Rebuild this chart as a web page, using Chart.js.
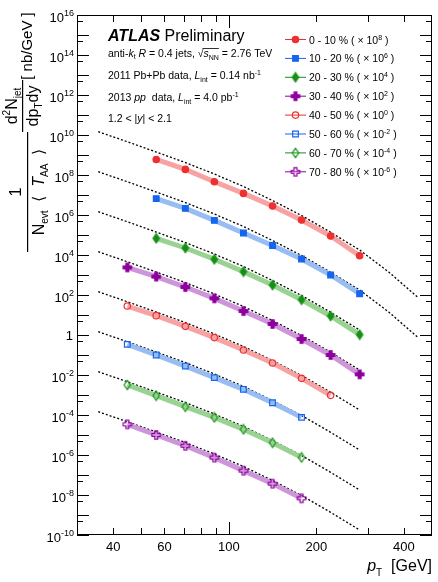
<!DOCTYPE html>
<html>
<head>
<meta charset="utf-8">
<script src="https://cdn.jsdelivr.net/npm/chart.js@4.4.1/dist/chart.umd.min.js"></script>
<style>
  html, body { margin: 0; padding: 0; background: #fff; }
  canvas { display: block; }
</style>
</head>
<body>
<canvas id="chart" width="438" height="582"></canvas>
<script>
// jet pT bin centres [GeV]
const pt = [44.7, 56.2, 70.8, 89.1, 112.2, 141.3, 177.8, 223.9, 281.8];

// 1/(Nevt <TAA>) d2N/dpTdy [nb/GeV], before the factor given in the legend
const y0010 = [null, 6.0, 1.9, 0.46, 0.12, 0.028, 5.6e-3, 8.9e-4, 9.2e-5];
const y1020 = [null, 6.6, 2.15, 0.54, 0.126, 0.030, 6.3e-3, 1.0e-3, 1.16e-4];
const y2030 = [null, 6.8, 2.24, 0.61, 0.147, 0.0316, 5.8e-3, 8.9e-4, 1.04e-4];
const y3040 = [24, 8.3, 2.5, 0.68, 0.158, 0.0355, 6.3e-3, 1.0e-3, 1.08e-4];
const y4050 = [28, 9.3, 2.7, 0.74, 0.178, 0.040, 6.8e-3, 9.6e-4, null];
const y5060 = [34, 10, 2.8, 0.74, 0.192, 0.041, 7.6e-3, null, null];
const y6070 = [32, 9.3, 2.6, 0.76, 0.192, 0.041, 7.6e-3, null, null];
const y7080 = [34, 10, 2.9, 0.74, 0.165, 0.037, 6.8e-3, null, null];

const centralities = ['0 - 10 %', '10 - 20 %', '20 - 30 %', '30 - 40 %', '40 - 50 %', '50 - 60 %', '60 - 70 %', '70 - 80 %'];
const scaleExp = [8, 6, 4, 2, 0, -2, -4, -6];

// pp reference (dotted curves), same scaling as the data
const ppPt = [35.5, 44.7, 56.2, 70.8, 89.1, 112.2, 141.3, 177.8, 223.9, 281.8, 354.8, 446.7];
const ppRef = [146, 46, 14.1, 4.2, 1.12, 0.266, 0.053, 9.4e-3, 1.36e-3, 1.78e-4, 1.41e-5, 7.7e-7];
const ppMax = [446.7, 446.7, 281.8, 281.8, 281.8, 281.8, 281.8, 281.8];

// axis labels
const xTicks = [40, 60, 100, 200, 400];
const xMinor = [40, 50, 60, 70, 80, 90, 200, 300, 400];
const yLabelExp = [16, 14, 12, 10, 8, 6, 4, 2, 0, -2, -4, -6, -8, -10];

const yields = [y0010, y1020, y2030, y3040, y4050, y5060, y6070, y7080];

const FONT = '"Liberation Sans", Arial, Helvetica, sans-serif';
const markerCol = ['#ee3030', '#1565ee', '#159015', '#8e009e'];
const bandCol = ['#f7a3a3', '#97bdf2', '#99d392', '#cf95da'];

function setFont(ctx, size, style) {
  ctx.font = (style ? style + ' ' : '') + size + 'px ' + FONT;
}

// draws a run of text pieces: [text, size, style, dy]
function rich(ctx, x, y, segs, align) {
  ctx.textAlign = 'left';
  let w = 0;
  segs.forEach(s => { setFont(ctx, s[1], s[2]); w += ctx.measureText(s[0]).width; });
  let cx = align === 'center' ? x - w / 2 : align === 'right' ? x - w : x;
  const pos = [];
  segs.forEach(s => {
    setFont(ctx, s[1], s[2]);
    ctx.fillText(s[0], cx, y + (s[3] || 0));
    const ww = ctx.measureText(s[0]).width;
    pos.push([cx, ww]);
    cx += ww;
  });
  return pos;
}

// diamond and fat cross markers (ROOT style) as little canvases
function makeMarker(shape, color, filled) {
  const c = document.createElement('canvas');
  c.width = 12; c.height = 12;
  const g = c.getContext('2d');
  g.translate(6, 6);
  g.beginPath();
  if (shape === 'diamond') {
    g.moveTo(0, -4.6); g.lineTo(3.2, 0); g.lineTo(0, 4.6); g.lineTo(-3.2, 0);
  } else {
    const s = 4.2, a = 1.5;
    const p = [[-a, -s], [a, -s], [a, -a], [s, -a], [s, a], [a, a], [a, s], [-a, s], [-a, a], [-s, a], [-s, -a], [-a, -a]];
    g.moveTo(p[0][0], p[0][1]);
    p.slice(1).forEach(q => g.lineTo(q[0], q[1]));
  }
  g.closePath();
  if (filled) { g.fillStyle = color; g.fill(); }
  g.lineWidth = 1.2; g.strokeStyle = color; g.stroke();
  return c;
}

function pointStyleFor(i) {
  const c = i % 4, filled = i < 4;
  if (c === 0) return { style: 'circle', r: 3.2 };
  if (c === 1) return { style: 'rect', r: 4 };
  return { style: makeMarker(c === 2 ? 'diamond' : 'cross', markerCol[c], filled), r: 4 };
}

const datasets = [];
yields.forEach((vals, i) => {
  const f = Math.pow(10, scaleExp[i]);
  const c = i % 4, filled = i < 4;
  const ps = pointStyleFor(i);
  datasets.push({
    data: pt.map((p, j) => ({ x: p, y: vals[j] === null ? null : vals[j] * f })).filter(d => d.y !== null),
    showLine: true,
    borderColor: bandCol[c],
    borderWidth: 5,
    pointStyle: ps.style,
    pointRadius: ps.r,
    pointBackgroundColor: filled ? markerCol[c] : 'rgba(0,0,0,0)',
    pointBorderColor: markerCol[c],
    pointBorderWidth: 1.2
  });
});
ppMax.forEach((m, i) => {
  const f = Math.pow(10, scaleExp[i]);
  datasets.push({
    data: ppPt.map((p, j) => ({ x: p, y: ppRef[j] * f })).filter(d => d.x <= m),
    showLine: true,
    borderColor: '#000',
    borderWidth: 1.3,
    borderDash: [2, 2],
    pointRadius: 0
  });
});

const decor = {
  id: 'decor',
  afterDraw(chart) {
    const { ctx, chartArea: a, scales: { x, y } } = chart;
    ctx.save();
    ctx.fillStyle = '#000';
    ctx.strokeStyle = '#000';
    ctx.lineWidth = 1;
    ctx.strokeRect(a.left + 0.5, a.top + 0.5, a.right - a.left - 1, a.bottom - a.top - 1);

    // y ticks on both sides
    ctx.beginPath();
    for (let k = -10; k <= 16; k++) {
      const py = Math.round(y.getPixelForValue(Math.pow(10, k))) + 0.5;
      ctx.moveTo(a.left, py); ctx.lineTo(a.left + 12, py);
      ctx.moveTo(a.right, py); ctx.lineTo(a.right - 12, py);
      if (k < 16) {
        const pm = Math.round(y.getPixelForValue(5 * Math.pow(10, k))) + 0.5;
        ctx.moveTo(a.left, pm); ctx.lineTo(a.left + 6, pm);
        ctx.moveTo(a.right, pm); ctx.lineTo(a.right - 6, pm);
      }
    }
    // x ticks on bottom and top
    xMinor.forEach(v => {
      const px = Math.round(x.getPixelForValue(v)) + 0.5;
      ctx.moveTo(px, a.bottom); ctx.lineTo(px, a.bottom - 7);
      ctx.moveTo(px, a.top); ctx.lineTo(px, a.top + 7);
    });
    const p100 = Math.round(x.getPixelForValue(100)) + 0.5;
    ctx.moveTo(p100, a.bottom); ctx.lineTo(p100, a.bottom - 13);
    ctx.moveTo(p100, a.top); ctx.lineTo(p100, a.top + 13);
    ctx.stroke();

    // tick labels
    ctx.textAlign = 'center';
    setFont(ctx, 13);
    xTicks.forEach(v => ctx.fillText(String(v), x.getPixelForValue(v), 551));
    yLabelExp.forEach(k => {
      const py = y.getPixelForValue(Math.pow(10, k));
      if (k === 0) {
        rich(ctx, 73, py + 4.7, [['1', 13]], 'right');
      } else {
        rich(ctx, 74, py + 6.5, [['10', 13], [String(k), 9, '', -6]], 'right');
      }
    });

    // x title
    rich(ctx, 432, 571, [['p', 16, 'italic'], ['T', 10, '', 5], ['  [GeV]', 16]], 'right');

    // y title, rotated: u = 300 - screen y, v = screen x
    ctx.save();
    ctx.translate(0, 300);
    ctx.rotate(-Math.PI / 2);
    rich(ctx, 254, 32, [['[ nb/GeV ]', 15]], 'center');
    rich(ctx, 194, 17, [['d', 16], ['2', 10, '', -7], ['N', 16], ['jet', 10, '', 4]], 'center');
    rich(ctx, 194, 38, [['dp', 16], ['T', 10, '', 4], ['dy', 16]], 'center');
    ctx.fillRect(168, 22, 52, 1.2);
    rich(ctx, 108, 21, [['1', 17]], 'center');
    ctx.fillRect(48, 27, 120, 1.2);
    rich(ctx, 108, 44, [['N', 16], ['evt', 10, '', 4], ['  \u27E8  ', 16], ['T', 16, 'italic'], ['AA', 10, '', 4], ['  \u27E9', 16]], 'center');
    ctx.restore();

    // text block
    rich(ctx, 108, 41, [['ATLAS', 16, 'bold italic'], [' Preliminary', 16]]);
    const p2 = rich(ctx, 108, 57, [['anti-', 10.5], ['k', 10.5, 'italic'], ['t', 7, '', 2], [' ', 10.5], ['R', 10.5, 'italic'],
      [' = 0.4 jets, ', 10.5], ['\u221A', 10.5], ['s', 10.5, 'italic'], ['NN', 7, '', 2.5], [' = 2.76 TeV', 10.5]]);
    ctx.fillRect(p2[6][0] + p2[6][1] - 1, 57 - 9, p2[8][0] + p2[8][1] - p2[6][0] - p2[6][1] + 1, 0.8);
    rich(ctx, 108, 79, [['2011 Pb+Pb data, ', 10.5], ['L', 10.5, 'italic'], ['int', 7, '', 2.5], [' = 0.14 nb', 10.5], ['-1', 7, '', -4]]);
    rich(ctx, 108, 101, [['2013 ', 10.5], ['pp', 10.5, 'italic'], ['  data, ', 10.5], ['L', 10.5, 'italic'], ['int', 7, '', 2.5], [' = 4.0 pb', 10.5], ['-1', 7, '', -4]]);
    rich(ctx, 108, 122, [['1.2 < |', 10.5], ['y', 10.5, 'italic'], ['| < 2.1', 10.5]]);

    // legend
    centralities.forEach((name, i) => {
      const ly = 39.5 + 18.9 * i;
      const c = i % 4, filled = i < 4;
      ctx.strokeStyle = markerCol[c];
      ctx.lineWidth = 1;
      ctx.beginPath(); ctx.moveTo(285, ly); ctx.lineTo(306, ly); ctx.stroke();
      const ps = pointStyleFor(i);
      ctx.fillStyle = filled ? markerCol[c] : 'rgba(0,0,0,0)';
      ctx.lineWidth = 1.2;
      Chart.helpers.drawPoint(ctx, { pointStyle: ps.style, radius: ps.r, rotation: 0, borderWidth: 1.2 }, 295.5, ly);
      ctx.fillStyle = '#000';
      rich(ctx, 309, ly + 4, [[name + ' ( \u00D7 10', 10.5], [String(scaleExp[i]), 7, '', -4], [' )', 10.5]]);
    });
    ctx.restore();
  }
};

const ctx = document.getElementById('chart').getContext('2d');
const chart = new Chart(ctx, {
  type: 'scatter',
  data: { datasets: datasets },
  options: {
    responsive: false,
    animation: false,
    devicePixelRatio: 1,
    layout: { padding: { left: 77, top: 15, right: 6, bottom: 47 } },
    elements: { line: { tension: 0 } },
    scales: {
      x: { type: 'logarithmic', min: 30, max: 500, display: false },
      y: { type: 'logarithmic', min: 1e-10, max: 1e16, display: false }
    },
    plugins: { legend: { display: false }, tooltip: { enabled: false } }
  },
  plugins: [decor]
});
</script>
</body>
</html>
